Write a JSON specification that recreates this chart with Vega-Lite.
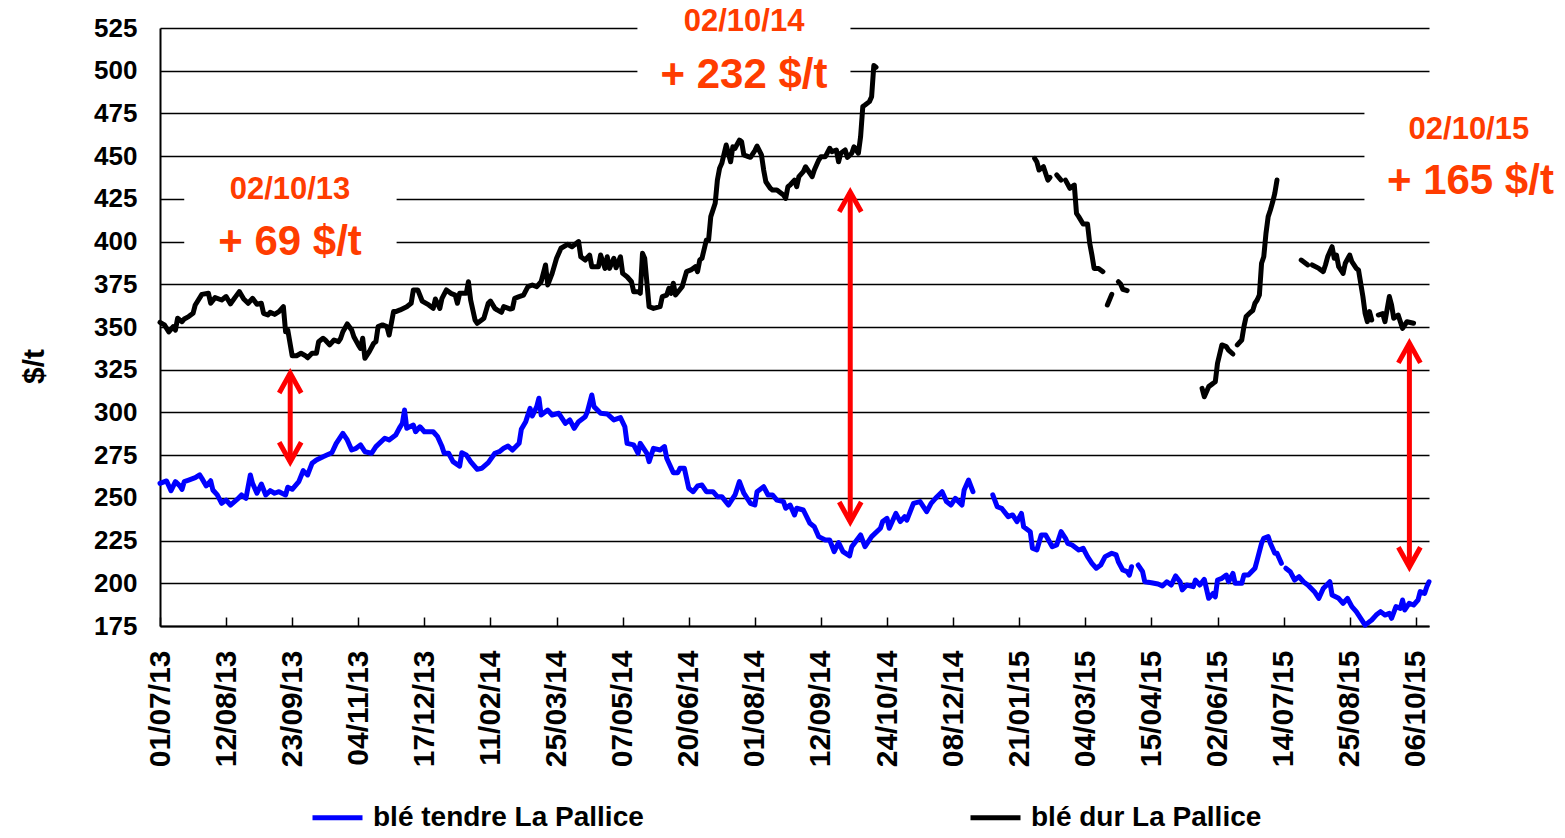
{
  "$schema": "https://vega.github.io/schema/vega-lite/v6.json",
  "width": 1269,
  "height": 598,
  "autosize": {"type": "none"},
  "padding": {"left": 160, "top": 28, "right": 136, "bottom": 212},
  "background": "white",
  "config": {"font": "Liberation Sans", "view": {"stroke": null}},
  "layer": [
    {
      "data": {"values": [
        {"n1": 11, "n2": 107.4, "v1": 390, "v2": 445},
        {"n1": 216.7, "n2": 313.4, "v1": 490, "v2": 535},
        {"n1": 546.7, "n2": 640, "v1": 412, "v2": 487}
      ]},
      "mark": {"type": "rect", "fill": "white"},
      "encoding": {
        "x": {"field": "n1", "type": "quantitative"},
        "x2": {"field": "n2"},
        "y": {"field": "v1", "type": "quantitative"},
        "y2": {"field": "v2"}
      }
    },
    {
      "data": {"values": [
        {"s":"blé tendre La Pallice","g":1,"n":0,"v":258.5},{"s":"blé tendre La Pallice","g":1,"n":3,"v":259.9},{"s":"blé tendre La Pallice","g":1,"n":5,"v":254.2},{"s":"blé tendre La Pallice","g":1,"n":7,"v":259.5},{"s":"blé tendre La Pallice","g":1,"n":9,"v":257},{"s":"blé tendre La Pallice","g":1,"n":10,"v":255},{"s":"blé tendre La Pallice","g":1,"n":11,"v":259.5},{"s":"blé tendre La Pallice","g":1,"n":13,"v":260.4},{"s":"blé tendre La Pallice","g":1,"n":16,"v":261.8},{"s":"blé tendre La Pallice","g":1,"n":18,"v":263.4},{"s":"blé tendre La Pallice","g":1,"n":19,"v":261.4},{"s":"blé tendre La Pallice","g":1,"n":21,"v":257},{"s":"blé tendre La Pallice","g":1,"n":23,"v":260},{"s":"blé tendre La Pallice","g":1,"n":24,"v":254.6},{"s":"blé tendre La Pallice","g":1,"n":26,"v":251.7},{"s":"blé tendre La Pallice","g":1,"n":28,"v":246.8},{"s":"blé tendre La Pallice","g":1,"n":30,"v":248.7},{"s":"blé tendre La Pallice","g":1,"n":32,"v":245.8},{"s":"blé tendre La Pallice","g":1,"n":35,"v":249.1},{"s":"blé tendre La Pallice","g":1,"n":37,"v":251.7},{"s":"blé tendre La Pallice","g":1,"n":39,"v":249.7},{"s":"blé tendre La Pallice","g":1,"n":41,"v":263.4},{"s":"blé tendre La Pallice","g":1,"n":42,"v":258.5},{"s":"blé tendre La Pallice","g":1,"n":44,"v":252.7},{"s":"blé tendre La Pallice","g":1,"n":46,"v":258.1},{"s":"blé tendre La Pallice","g":1,"n":48,"v":251.7},{"s":"blé tendre La Pallice","g":1,"n":50,"v":254.2},{"s":"blé tendre La Pallice","g":1,"n":52,"v":252.7},{"s":"blé tendre La Pallice","g":1,"n":54,"v":253.6},{"s":"blé tendre La Pallice","g":1,"n":57,"v":251.7},{"s":"blé tendre La Pallice","g":1,"n":58,"v":256.2},{"s":"blé tendre La Pallice","g":1,"n":60,"v":255},{"s":"blé tendre La Pallice","g":1,"n":63,"v":259.5},{"s":"blé tendre La Pallice","g":1,"n":65,"v":265.9},{"s":"blé tendre La Pallice","g":1,"n":67,"v":263.4},{"s":"blé tendre La Pallice","g":1,"n":69,"v":270.2},{"s":"blé tendre La Pallice","g":1,"n":71,"v":272.2},{"s":"blé tendre La Pallice","g":1,"n":74,"v":274.1},{"s":"blé tendre La Pallice","g":1,"n":78,"v":276.4},{"s":"blé tendre La Pallice","g":1,"n":80,"v":281.9},{"s":"blé tendre La Pallice","g":1,"n":83,"v":287.8},{"s":"blé tendre La Pallice","g":1,"n":85,"v":283.9},{"s":"blé tendre La Pallice","g":1,"n":87,"v":278},{"s":"blé tendre La Pallice","g":1,"n":89,"v":279},{"s":"blé tendre La Pallice","g":1,"n":91,"v":281},{"s":"blé tendre La Pallice","g":1,"n":93,"v":277},{"s":"blé tendre La Pallice","g":1,"n":96,"v":276.1},{"s":"blé tendre La Pallice","g":1,"n":98,"v":280},{"s":"blé tendre La Pallice","g":1,"n":102,"v":284.9},{"s":"blé tendre La Pallice","g":1,"n":104,"v":283.9},{"s":"blé tendre La Pallice","g":1,"n":107,"v":286.8},{"s":"blé tendre La Pallice","g":1,"n":109,"v":291.6},{"s":"blé tendre La Pallice","g":1,"n":110,"v":293.6},{"s":"blé tendre La Pallice","g":1,"n":111,"v":301.4},{"s":"blé tendre La Pallice","g":1,"n":112,"v":290.7},{"s":"blé tendre La Pallice","g":1,"n":115,"v":292.6},{"s":"blé tendre La Pallice","g":1,"n":116,"v":288.7},{"s":"blé tendre La Pallice","g":1,"n":118,"v":291.6},{"s":"blé tendre La Pallice","g":1,"n":120,"v":288.7},{"s":"blé tendre La Pallice","g":1,"n":124,"v":288.7},{"s":"blé tendre La Pallice","g":1,"n":126,"v":285.8},{"s":"blé tendre La Pallice","g":1,"n":128,"v":280},{"s":"blé tendre La Pallice","g":1,"n":129,"v":276.1},{"s":"blé tendre La Pallice","g":1,"n":131,"v":276.1},{"s":"blé tendre La Pallice","g":1,"n":133,"v":271.2},{"s":"blé tendre La Pallice","g":1,"n":136,"v":268.6},{"s":"blé tendre La Pallice","g":1,"n":137,"v":276.4},{"s":"blé tendre La Pallice","g":1,"n":139,"v":275.1},{"s":"blé tendre La Pallice","g":1,"n":141,"v":271.2},{"s":"blé tendre La Pallice","g":1,"n":144,"v":266.7},{"s":"blé tendre La Pallice","g":1,"n":146,"v":267.3},{"s":"blé tendre La Pallice","g":1,"n":149,"v":270.6},{"s":"blé tendre La Pallice","g":1,"n":152,"v":276.1},{"s":"blé tendre La Pallice","g":1,"n":154,"v":277},{"s":"blé tendre La Pallice","g":1,"n":156,"v":279},{"s":"blé tendre La Pallice","g":1,"n":158,"v":280.3},{"s":"blé tendre La Pallice","g":1,"n":160,"v":278},{"s":"blé tendre La Pallice","g":1,"n":163,"v":281.9},{"s":"blé tendre La Pallice","g":1,"n":164,"v":290.1},{"s":"blé tendre La Pallice","g":1,"n":166,"v":294.6},{"s":"blé tendre La Pallice","g":1,"n":168,"v":302.4},{"s":"blé tendre La Pallice","g":1,"n":169,"v":297.9},{"s":"blé tendre La Pallice","g":1,"n":171,"v":303.4},{"s":"blé tendre La Pallice","g":1,"n":172,"v":308.3},{"s":"blé tendre La Pallice","g":1,"n":173,"v":298.5},{"s":"blé tendre La Pallice","g":1,"n":176,"v":301.4},{"s":"blé tendre La Pallice","g":1,"n":178,"v":298.5},{"s":"blé tendre La Pallice","g":1,"n":181,"v":299.5},{"s":"blé tendre La Pallice","g":1,"n":184,"v":293.6},{"s":"blé tendre La Pallice","g":1,"n":186,"v":295.6},{"s":"blé tendre La Pallice","g":1,"n":188,"v":290.7},{"s":"blé tendre La Pallice","g":1,"n":190,"v":294.6},{"s":"blé tendre La Pallice","g":1,"n":193,"v":297.5},{"s":"blé tendre La Pallice","g":1,"n":194,"v":300.4},{"s":"blé tendre La Pallice","g":1,"n":196,"v":310.2},{"s":"blé tendre La Pallice","g":1,"n":197,"v":303.4},{"s":"blé tendre La Pallice","g":1,"n":200,"v":299.5},{"s":"blé tendre La Pallice","g":1,"n":203,"v":299.1},{"s":"blé tendre La Pallice","g":1,"n":206,"v":295.6},{"s":"blé tendre La Pallice","g":1,"n":209,"v":297},{"s":"blé tendre La Pallice","g":1,"n":211,"v":291.6},{"s":"blé tendre La Pallice","g":1,"n":212,"v":281.9},{"s":"blé tendre La Pallice","g":1,"n":215,"v":281},{"s":"blé tendre La Pallice","g":1,"n":217,"v":276.1},{"s":"blé tendre La Pallice","g":1,"n":218,"v":281.9},{"s":"blé tendre La Pallice","g":1,"n":221,"v":276.1},{"s":"blé tendre La Pallice","g":1,"n":222,"v":271.2},{"s":"blé tendre La Pallice","g":1,"n":224,"v":279},{"s":"blé tendre La Pallice","g":1,"n":227,"v":278},{"s":"blé tendre La Pallice","g":1,"n":229,"v":280},{"s":"blé tendre La Pallice","g":1,"n":230,"v":273.2},{"s":"blé tendre La Pallice","g":1,"n":233,"v":264.7},{"s":"blé tendre La Pallice","g":1,"n":235,"v":264.7},{"s":"blé tendre La Pallice","g":1,"n":236,"v":267.3},{"s":"blé tendre La Pallice","g":1,"n":238,"v":267.3},{"s":"blé tendre La Pallice","g":1,"n":240,"v":255.6},{"s":"blé tendre La Pallice","g":1,"n":242,"v":253.6},{"s":"blé tendre La Pallice","g":1,"n":244,"v":257},{"s":"blé tendre La Pallice","g":1,"n":246,"v":257.5},{"s":"blé tendre La Pallice","g":1,"n":248,"v":253.6},{"s":"blé tendre La Pallice","g":1,"n":251,"v":253.6},{"s":"blé tendre La Pallice","g":1,"n":253,"v":250.7},{"s":"blé tendre La Pallice","g":1,"n":255,"v":250.7},{"s":"blé tendre La Pallice","g":1,"n":258,"v":245.8},{"s":"blé tendre La Pallice","g":1,"n":261,"v":251.7},{"s":"blé tendre La Pallice","g":1,"n":263,"v":259.5},{"s":"blé tendre La Pallice","g":1,"n":265,"v":252.7},{"s":"blé tendre La Pallice","g":1,"n":268,"v":246.8},{"s":"blé tendre La Pallice","g":1,"n":270,"v":245.8},{"s":"blé tendre La Pallice","g":1,"n":271,"v":253.6},{"s":"blé tendre La Pallice","g":1,"n":274,"v":256.5},{"s":"blé tendre La Pallice","g":1,"n":276,"v":251.7},{"s":"blé tendre La Pallice","g":1,"n":278,"v":251.7},{"s":"blé tendre La Pallice","g":1,"n":280,"v":248.7},{"s":"blé tendre La Pallice","g":1,"n":283,"v":247.8},{"s":"blé tendre La Pallice","g":1,"n":284,"v":243.9},{"s":"blé tendre La Pallice","g":1,"n":286,"v":245.8},{"s":"blé tendre La Pallice","g":1,"n":288,"v":240},{"s":"blé tendre La Pallice","g":1,"n":289,"v":243.9},{"s":"blé tendre La Pallice","g":1,"n":292,"v":242.9},{"s":"blé tendre La Pallice","g":1,"n":295,"v":235.1},{"s":"blé tendre La Pallice","g":1,"n":297,"v":233.1},{"s":"blé tendre La Pallice","g":1,"n":299,"v":227.3},{"s":"blé tendre La Pallice","g":1,"n":302,"v":225.3},{"s":"blé tendre La Pallice","g":1,"n":304,"v":225.3},{"s":"blé tendre La Pallice","g":1,"n":306,"v":218.5},{"s":"blé tendre La Pallice","g":1,"n":308,"v":223.8},{"s":"blé tendre La Pallice","g":1,"n":310,"v":218.5},{"s":"blé tendre La Pallice","g":1,"n":313,"v":216},{"s":"blé tendre La Pallice","g":1,"n":314,"v":221.4},{"s":"blé tendre La Pallice","g":1,"n":318,"v":228.3},{"s":"blé tendre La Pallice","g":1,"n":320,"v":221.4},{"s":"blé tendre La Pallice","g":1,"n":323,"v":227.3},{"s":"blé tendre La Pallice","g":1,"n":327,"v":232.2},{"s":"blé tendre La Pallice","g":1,"n":328,"v":236.1},{"s":"blé tendre La Pallice","g":1,"n":330,"v":238},{"s":"blé tendre La Pallice","g":1,"n":331,"v":232.2},{"s":"blé tendre La Pallice","g":1,"n":334,"v":240.9},{"s":"blé tendre La Pallice","g":1,"n":336,"v":236.1},{"s":"blé tendre La Pallice","g":1,"n":338,"v":239},{"s":"blé tendre La Pallice","g":1,"n":339,"v":237},{"s":"blé tendre La Pallice","g":1,"n":342,"v":246.8},{"s":"blé tendre La Pallice","g":1,"n":345,"v":247.8},{"s":"blé tendre La Pallice","g":1,"n":348,"v":241.9},{"s":"blé tendre La Pallice","g":1,"n":350,"v":246.8},{"s":"blé tendre La Pallice","g":1,"n":352,"v":249.7},{"s":"blé tendre La Pallice","g":1,"n":355,"v":253.6},{"s":"blé tendre La Pallice","g":1,"n":357,"v":247.8},{"s":"blé tendre La Pallice","g":1,"n":359,"v":245.8},{"s":"blé tendre La Pallice","g":1,"n":361,"v":249.7},{"s":"blé tendre La Pallice","g":1,"n":364,"v":245.8},{"s":"blé tendre La Pallice","g":1,"n":365,"v":254.6},{"s":"blé tendre La Pallice","g":1,"n":367,"v":260.4},{"s":"blé tendre La Pallice","g":1,"n":369,"v":253.6},
        {"s":"blé tendre La Pallice","g":2,"n":378,"v":251.7},{"s":"blé tendre La Pallice","g":2,"n":380,"v":244.8},{"s":"blé tendre La Pallice","g":2,"n":382,"v":243.9},{"s":"blé tendre La Pallice","g":2,"n":385,"v":239},{"s":"blé tendre La Pallice","g":2,"n":387,"v":240},{"s":"blé tendre La Pallice","g":2,"n":389,"v":236.1},{"s":"blé tendre La Pallice","g":2,"n":391,"v":240.9},{"s":"blé tendre La Pallice","g":2,"n":392,"v":233.1},{"s":"blé tendre La Pallice","g":2,"n":395,"v":230.2},{"s":"blé tendre La Pallice","g":2,"n":396,"v":220.5},{"s":"blé tendre La Pallice","g":2,"n":398,"v":219.5},{"s":"blé tendre La Pallice","g":2,"n":400,"v":228.3},{"s":"blé tendre La Pallice","g":2,"n":402,"v":228.3},{"s":"blé tendre La Pallice","g":2,"n":405,"v":221.4},{"s":"blé tendre La Pallice","g":2,"n":407,"v":222.4},{"s":"blé tendre La Pallice","g":2,"n":409,"v":230.2},{"s":"blé tendre La Pallice","g":2,"n":411,"v":226.3},{"s":"blé tendre La Pallice","g":2,"n":412,"v":223.4},{"s":"blé tendre La Pallice","g":2,"n":414,"v":222.4},{"s":"blé tendre La Pallice","g":2,"n":417,"v":219.5},{"s":"blé tendre La Pallice","g":2,"n":419,"v":220.5},{"s":"blé tendre La Pallice","g":2,"n":421,"v":215.6},{"s":"blé tendre La Pallice","g":2,"n":423,"v":211.7},{"s":"blé tendre La Pallice","g":2,"n":425,"v":208.8},{"s":"blé tendre La Pallice","g":2,"n":427,"v":210.7},{"s":"blé tendre La Pallice","g":2,"n":429,"v":215.6},{"s":"blé tendre La Pallice","g":2,"n":432,"v":217.6},{"s":"blé tendre La Pallice","g":2,"n":434,"v":216.6},{"s":"blé tendre La Pallice","g":2,"n":435,"v":212.6},{"s":"blé tendre La Pallice","g":2,"n":437,"v":207.8},{"s":"blé tendre La Pallice","g":2,"n":439,"v":206.8},{"s":"blé tendre La Pallice","g":2,"n":440,"v":204.8},{"s":"blé tendre La Pallice","g":2,"n":441,"v":209.7},
        {"s":"blé tendre La Pallice","g":3,"n":444,"v":210.7},{"s":"blé tendre La Pallice","g":3,"n":446,"v":206.8},{"s":"blé tendre La Pallice","g":3,"n":447,"v":200.9},{"s":"blé tendre La Pallice","g":3,"n":450,"v":200.3},{"s":"blé tendre La Pallice","g":3,"n":453,"v":199.6},{"s":"blé tendre La Pallice","g":3,"n":455,"v":198.4},{"s":"blé tendre La Pallice","g":3,"n":457,"v":200.9},{"s":"blé tendre La Pallice","g":3,"n":459,"v":199},{"s":"blé tendre La Pallice","g":3,"n":461,"v":204.3},{"s":"blé tendre La Pallice","g":3,"n":463,"v":200.9},{"s":"blé tendre La Pallice","g":3,"n":464,"v":196.1},{"s":"blé tendre La Pallice","g":3,"n":466,"v":199},{"s":"blé tendre La Pallice","g":3,"n":469,"v":198},{"s":"blé tendre La Pallice","g":3,"n":470,"v":201.9},{"s":"blé tendre La Pallice","g":3,"n":472,"v":199},{"s":"blé tendre La Pallice","g":3,"n":474,"v":202.3},{"s":"blé tendre La Pallice","g":3,"n":476,"v":191.2},{"s":"blé tendre La Pallice","g":3,"n":478,"v":194.1},{"s":"blé tendre La Pallice","g":3,"n":479,"v":192.1},{"s":"blé tendre La Pallice","g":3,"n":480,"v":201.9},{"s":"blé tendre La Pallice","g":3,"n":482,"v":202.9},{"s":"blé tendre La Pallice","g":3,"n":484,"v":204.8},{"s":"blé tendre La Pallice","g":3,"n":485,"v":200.9},{"s":"blé tendre La Pallice","g":3,"n":487,"v":205.8},{"s":"blé tendre La Pallice","g":3,"n":488,"v":200},{"s":"blé tendre La Pallice","g":3,"n":491,"v":200},{"s":"blé tendre La Pallice","g":3,"n":492,"v":204.8},{"s":"blé tendre La Pallice","g":3,"n":494,"v":204.8},{"s":"blé tendre La Pallice","g":3,"n":497,"v":208.8},{"s":"blé tendre La Pallice","g":3,"n":498,"v":213.6},{"s":"blé tendre La Pallice","g":3,"n":500,"v":223.4},{"s":"blé tendre La Pallice","g":3,"n":501,"v":226.3},{"s":"blé tendre La Pallice","g":3,"n":503,"v":227.3},{"s":"blé tendre La Pallice","g":3,"n":504,"v":223.4},{"s":"blé tendre La Pallice","g":3,"n":506,"v":217.6},{"s":"blé tendre La Pallice","g":3,"n":507,"v":217.6},{"s":"blé tendre La Pallice","g":3,"n":509,"v":211.7},
        {"s":"blé tendre La Pallice","g":4,"n":511,"v":208.8},{"s":"blé tendre La Pallice","g":4,"n":513,"v":206.8},{"s":"blé tendre La Pallice","g":4,"n":515,"v":201.9},{"s":"blé tendre La Pallice","g":4,"n":517,"v":203.9},{"s":"blé tendre La Pallice","g":4,"n":519,"v":200.9},{"s":"blé tendre La Pallice","g":4,"n":521,"v":199},{"s":"blé tendre La Pallice","g":4,"n":524,"v":195.1},{"s":"blé tendre La Pallice","g":4,"n":526,"v":191.2},{"s":"blé tendre La Pallice","g":4,"n":528,"v":197},{"s":"blé tendre La Pallice","g":4,"n":531,"v":200.9},{"s":"blé tendre La Pallice","g":4,"n":532,"v":193.1},{"s":"blé tendre La Pallice","g":4,"n":535,"v":191.2},{"s":"blé tendre La Pallice","g":4,"n":537,"v":188.3},{"s":"blé tendre La Pallice","g":4,"n":539,"v":191.2},{"s":"blé tendre La Pallice","g":4,"n":541,"v":186.3},{"s":"blé tendre La Pallice","g":4,"n":543,"v":183.4},{"s":"blé tendre La Pallice","g":4,"n":545,"v":179.5},{"s":"blé tendre La Pallice","g":4,"n":547,"v":175.5},{"s":"blé tendre La Pallice","g":4,"n":550,"v":178.5},{"s":"blé tendre La Pallice","g":4,"n":552,"v":181.4},{"s":"blé tendre La Pallice","g":4,"n":554,"v":183.4},{"s":"blé tendre La Pallice","g":4,"n":556,"v":181.4},{"s":"blé tendre La Pallice","g":4,"n":558,"v":182.4},{"s":"blé tendre La Pallice","g":4,"n":559,"v":179.5},{"s":"blé tendre La Pallice","g":4,"n":561,"v":186.3},{"s":"blé tendre La Pallice","g":4,"n":563,"v":185.3},{"s":"blé tendre La Pallice","g":4,"n":564,"v":190.2},{"s":"blé tendre La Pallice","g":4,"n":565,"v":184.4},{"s":"blé tendre La Pallice","g":4,"n":567,"v":188.3},{"s":"blé tendre La Pallice","g":4,"n":569,"v":187.3},{"s":"blé tendre La Pallice","g":4,"n":571,"v":190.2},{"s":"blé tendre La Pallice","g":4,"n":572,"v":195.1},{"s":"blé tendre La Pallice","g":4,"n":574,"v":194.1},{"s":"blé tendre La Pallice","g":4,"n":575,"v":198},{"s":"blé tendre La Pallice","g":4,"n":576,"v":200.9},
        {"s":"blé dur La Pallice","g":1,"n":0,"v":352.7},{"s":"blé dur La Pallice","g":1,"n":2,"v":351.2},{"s":"blé dur La Pallice","g":1,"n":4,"v":347.2},{"s":"blé dur La Pallice","g":1,"n":6,"v":350.2},{"s":"blé dur La Pallice","g":1,"n":7,"v":348.2},{"s":"blé dur La Pallice","g":1,"n":8,"v":355.1},{"s":"blé dur La Pallice","g":1,"n":10,"v":353.1},{"s":"blé dur La Pallice","g":1,"n":11,"v":354.7},{"s":"blé dur La Pallice","g":1,"n":13,"v":356.1},{"s":"blé dur La Pallice","g":1,"n":15,"v":358},{"s":"blé dur La Pallice","g":1,"n":16,"v":362.9},{"s":"blé dur La Pallice","g":1,"n":19,"v":369.1},{"s":"blé dur La Pallice","g":1,"n":22,"v":369.7},{"s":"blé dur La Pallice","g":1,"n":23,"v":363.9},{"s":"blé dur La Pallice","g":1,"n":25,"v":367.2},{"s":"blé dur La Pallice","g":1,"n":28,"v":365.8},{"s":"blé dur La Pallice","g":1,"n":30,"v":367.8},{"s":"blé dur La Pallice","g":1,"n":32,"v":363.5},{"s":"blé dur La Pallice","g":1,"n":34,"v":367.2},{"s":"blé dur La Pallice","g":1,"n":36,"v":370.7},{"s":"blé dur La Pallice","g":1,"n":38,"v":366.4},{"s":"blé dur La Pallice","g":1,"n":40,"v":363.9},{"s":"blé dur La Pallice","g":1,"n":42,"v":366.8},{"s":"blé dur La Pallice","g":1,"n":44,"v":363.3},{"s":"blé dur La Pallice","g":1,"n":46,"v":363.9},{"s":"blé dur La Pallice","g":1,"n":47,"v":358},{"s":"blé dur La Pallice","g":1,"n":49,"v":357},{"s":"blé dur La Pallice","g":1,"n":50,"v":358.6},{"s":"blé dur La Pallice","g":1,"n":52,"v":357.4},{"s":"blé dur La Pallice","g":1,"n":54,"v":359},{"s":"blé dur La Pallice","g":1,"n":56,"v":361.9},{"s":"blé dur La Pallice","g":1,"n":57,"v":347.2},{"s":"blé dur La Pallice","g":1,"n":58,"v":348.2},{"s":"blé dur La Pallice","g":1,"n":60,"v":333.2},{"s":"blé dur La Pallice","g":1,"n":62,"v":333.2},{"s":"blé dur La Pallice","g":1,"n":64,"v":334.6},{"s":"blé dur La Pallice","g":1,"n":66,"v":333.2},{"s":"blé dur La Pallice","g":1,"n":67,"v":332},{"s":"blé dur La Pallice","g":1,"n":69,"v":334.6},{"s":"blé dur La Pallice","g":1,"n":71,"v":334.6},{"s":"blé dur La Pallice","g":1,"n":72,"v":341.4},{"s":"blé dur La Pallice","g":1,"n":74,"v":343.4},{"s":"blé dur La Pallice","g":1,"n":75,"v":342.4},{"s":"blé dur La Pallice","g":1,"n":77,"v":339.5},{"s":"blé dur La Pallice","g":1,"n":79,"v":342.4},{"s":"blé dur La Pallice","g":1,"n":81,"v":341.4},{"s":"blé dur La Pallice","g":1,"n":82,"v":343.4},{"s":"blé dur La Pallice","g":1,"n":83,"v":347.2},{"s":"blé dur La Pallice","g":1,"n":85,"v":351.8},{"s":"blé dur La Pallice","g":1,"n":87,"v":348.2},{"s":"blé dur La Pallice","g":1,"n":88,"v":344.3},{"s":"blé dur La Pallice","g":1,"n":90,"v":339.5},{"s":"blé dur La Pallice","g":1,"n":91,"v":337.5},{"s":"blé dur La Pallice","g":1,"n":92,"v":343.4},{"s":"blé dur La Pallice","g":1,"n":93,"v":331.7},{"s":"blé dur La Pallice","g":1,"n":95,"v":335.6},{"s":"blé dur La Pallice","g":1,"n":97,"v":340.5},{"s":"blé dur La Pallice","g":1,"n":98,"v":341.4},{"s":"blé dur La Pallice","g":1,"n":99,"v":350.2},{"s":"blé dur La Pallice","g":1,"n":101,"v":351.2},{"s":"blé dur La Pallice","g":1,"n":103,"v":350.2},{"s":"blé dur La Pallice","g":1,"n":104,"v":345.3},{"s":"blé dur La Pallice","g":1,"n":106,"v":359},{"s":"blé dur La Pallice","g":1,"n":107,"v":359},{"s":"blé dur La Pallice","g":1,"n":109,"v":360},{"s":"blé dur La Pallice","g":1,"n":112,"v":361.9},{"s":"blé dur La Pallice","g":1,"n":114,"v":363.9},{"s":"blé dur La Pallice","g":1,"n":115,"v":371.7},{"s":"blé dur La Pallice","g":1,"n":117,"v":371.7},{"s":"blé dur La Pallice","g":1,"n":119,"v":365.2},{"s":"blé dur La Pallice","g":1,"n":122,"v":362.9},{"s":"blé dur La Pallice","g":1,"n":124,"v":360.9},{"s":"blé dur La Pallice","g":1,"n":125,"v":366.4},{"s":"blé dur La Pallice","g":1,"n":127,"v":360.9},{"s":"blé dur La Pallice","g":1,"n":128,"v":366.8},{"s":"blé dur La Pallice","g":1,"n":130,"v":371.7},{"s":"blé dur La Pallice","g":1,"n":132,"v":369.7},{"s":"blé dur La Pallice","g":1,"n":134,"v":368.7},{"s":"blé dur La Pallice","g":1,"n":135,"v":363.9},{"s":"blé dur La Pallice","g":1,"n":136,"v":369.7},{"s":"blé dur La Pallice","g":1,"n":139,"v":369.7},{"s":"blé dur La Pallice","g":1,"n":140,"v":376.5},{"s":"blé dur La Pallice","g":1,"n":141,"v":365.8},{"s":"blé dur La Pallice","g":1,"n":143,"v":354.1},{"s":"blé dur La Pallice","g":1,"n":144,"v":352.2},{"s":"blé dur La Pallice","g":1,"n":146,"v":354.1},{"s":"blé dur La Pallice","g":1,"n":147,"v":355.1},{"s":"blé dur La Pallice","g":1,"n":149,"v":363.9},{"s":"blé dur La Pallice","g":1,"n":150,"v":365.2},{"s":"blé dur La Pallice","g":1,"n":152,"v":360.9},{"s":"blé dur La Pallice","g":1,"n":153,"v":360},{"s":"blé dur La Pallice","g":1,"n":155,"v":358.6},{"s":"blé dur La Pallice","g":1,"n":156,"v":361.9},{"s":"blé dur La Pallice","g":1,"n":159,"v":360.5},{"s":"blé dur La Pallice","g":1,"n":160,"v":360.9},{"s":"blé dur La Pallice","g":1,"n":161,"v":366.8},{"s":"blé dur La Pallice","g":1,"n":163,"v":367.8},{"s":"blé dur La Pallice","g":1,"n":165,"v":368.7},{"s":"blé dur La Pallice","g":1,"n":167,"v":373.6},{"s":"blé dur La Pallice","g":1,"n":169,"v":374.6},{"s":"blé dur La Pallice","g":1,"n":171,"v":373.6},{"s":"blé dur La Pallice","g":1,"n":173,"v":376.5},{"s":"blé dur La Pallice","g":1,"n":175,"v":386.3},{"s":"blé dur La Pallice","g":1,"n":176,"v":374.6},{"s":"blé dur La Pallice","g":1,"n":178,"v":381.4},{"s":"blé dur La Pallice","g":1,"n":180,"v":390.2},{"s":"blé dur La Pallice","g":1,"n":182,"v":396.1},{"s":"blé dur La Pallice","g":1,"n":185,"v":398.4},{"s":"blé dur La Pallice","g":1,"n":187,"v":397},{"s":"blé dur La Pallice","g":1,"n":190,"v":400},{"s":"blé dur La Pallice","g":1,"n":191,"v":391.1},{"s":"blé dur La Pallice","g":1,"n":193,"v":389.2},{"s":"blé dur La Pallice","g":1,"n":195,"v":392.1},{"s":"blé dur La Pallice","g":1,"n":196,"v":385.3},{"s":"blé dur La Pallice","g":1,"n":199,"v":385.3},{"s":"blé dur La Pallice","g":1,"n":200,"v":392.1},{"s":"blé dur La Pallice","g":1,"n":202,"v":384.3},{"s":"blé dur La Pallice","g":1,"n":203,"v":391.1},{"s":"blé dur La Pallice","g":1,"n":204,"v":384.3},{"s":"blé dur La Pallice","g":1,"n":206,"v":390.2},{"s":"blé dur La Pallice","g":1,"n":207,"v":384.7},{"s":"blé dur La Pallice","g":1,"n":209,"v":391.1},{"s":"blé dur La Pallice","g":1,"n":210,"v":381.4},{"s":"blé dur La Pallice","g":1,"n":212,"v":379.4},{"s":"blé dur La Pallice","g":1,"n":214,"v":376.5},{"s":"blé dur La Pallice","g":1,"n":215,"v":370.7},{"s":"blé dur La Pallice","g":1,"n":217,"v":370.7},{"s":"blé dur La Pallice","g":1,"n":218,"v":369.7},{"s":"blé dur La Pallice","g":1,"n":219,"v":393.1},{"s":"blé dur La Pallice","g":1,"n":220,"v":390.2},{"s":"blé dur La Pallice","g":1,"n":222,"v":361.9},{"s":"blé dur La Pallice","g":1,"n":224,"v":360.9},{"s":"blé dur La Pallice","g":1,"n":227,"v":361.9},{"s":"blé dur La Pallice","g":1,"n":228,"v":367.8},{"s":"blé dur La Pallice","g":1,"n":230,"v":368.7},{"s":"blé dur La Pallice","g":1,"n":231,"v":372.6},{"s":"blé dur La Pallice","g":1,"n":232,"v":369.7},{"s":"blé dur La Pallice","g":1,"n":233,"v":375.6},{"s":"blé dur La Pallice","g":1,"n":234,"v":368.7},{"s":"blé dur La Pallice","g":1,"n":237,"v":373.6},{"s":"blé dur La Pallice","g":1,"n":239,"v":382.4},{"s":"blé dur La Pallice","g":1,"n":241,"v":383.4},{"s":"blé dur La Pallice","g":1,"n":243,"v":385.3},{"s":"blé dur La Pallice","g":1,"n":244,"v":382.4},{"s":"blé dur La Pallice","g":1,"n":245,"v":389.2},{"s":"blé dur La Pallice","g":1,"n":246,"v":390.2},{"s":"blé dur La Pallice","g":1,"n":248,"v":400.9},{"s":"blé dur La Pallice","g":1,"n":249,"v":400.9},{"s":"blé dur La Pallice","g":1,"n":250,"v":414.6},{"s":"blé dur La Pallice","g":1,"n":252,"v":422.4},{"s":"blé dur La Pallice","g":1,"n":253,"v":436},{"s":"blé dur La Pallice","g":1,"n":254,"v":442.9},{"s":"blé dur La Pallice","g":1,"n":255,"v":445.8},{"s":"blé dur La Pallice","g":1,"n":257,"v":456.5},{"s":"blé dur La Pallice","g":1,"n":258,"v":451.7},{"s":"blé dur La Pallice","g":1,"n":259,"v":446.7},{"s":"blé dur La Pallice","g":1,"n":260,"v":455.5},{"s":"blé dur La Pallice","g":1,"n":261,"v":454.6},{"s":"blé dur La Pallice","g":1,"n":263,"v":459.4},{"s":"blé dur La Pallice","g":1,"n":264,"v":458.4},{"s":"blé dur La Pallice","g":1,"n":265,"v":450.7},{"s":"blé dur La Pallice","g":1,"n":267,"v":449.7},{"s":"blé dur La Pallice","g":1,"n":268,"v":449.3},{"s":"blé dur La Pallice","g":1,"n":270,"v":453.2},{"s":"blé dur La Pallice","g":1,"n":271,"v":455.9},{"s":"blé dur La Pallice","g":1,"n":273,"v":450.7},{"s":"blé dur La Pallice","g":1,"n":274,"v":441.9},{"s":"blé dur La Pallice","g":1,"n":275,"v":435},{"s":"blé dur La Pallice","g":1,"n":277,"v":431.2},{"s":"blé dur La Pallice","g":1,"n":278,"v":430.2},{"s":"blé dur La Pallice","g":1,"n":280,"v":430.2},{"s":"blé dur La Pallice","g":1,"n":283,"v":427.3},{"s":"blé dur La Pallice","g":1,"n":284,"v":425.3},{"s":"blé dur La Pallice","g":1,"n":285,"v":432.1},{"s":"blé dur La Pallice","g":1,"n":286,"v":433.1},{"s":"blé dur La Pallice","g":1,"n":288,"v":436},{"s":"blé dur La Pallice","g":1,"n":289,"v":432.1},{"s":"blé dur La Pallice","g":1,"n":290,"v":438},{"s":"blé dur La Pallice","g":1,"n":292,"v":440.9},{"s":"blé dur La Pallice","g":1,"n":293,"v":443.8},{"s":"blé dur La Pallice","g":1,"n":294,"v":441.9},{"s":"blé dur La Pallice","g":1,"n":296,"v":438},{"s":"blé dur La Pallice","g":1,"n":297,"v":441.9},{"s":"blé dur La Pallice","g":1,"n":299,"v":447.7},{"s":"blé dur La Pallice","g":1,"n":300,"v":449.7},{"s":"blé dur La Pallice","g":1,"n":302,"v":449.7},{"s":"blé dur La Pallice","g":1,"n":304,"v":454.6},{"s":"blé dur La Pallice","g":1,"n":305,"v":452.6},{"s":"blé dur La Pallice","g":1,"n":307,"v":453.6},{"s":"blé dur La Pallice","g":1,"n":308,"v":446.7},{"s":"blé dur La Pallice","g":1,"n":309,"v":451.7},{"s":"blé dur La Pallice","g":1,"n":311,"v":453.6},{"s":"blé dur La Pallice","g":1,"n":312,"v":449.3},{"s":"blé dur La Pallice","g":1,"n":314,"v":451.7},{"s":"blé dur La Pallice","g":1,"n":315,"v":455.5},{"s":"blé dur La Pallice","g":1,"n":317,"v":451.7},{"s":"blé dur La Pallice","g":1,"n":318,"v":461.4},{"s":"blé dur La Pallice","g":1,"n":319,"v":479},{"s":"blé dur La Pallice","g":1,"n":320,"v":479.9},{"s":"blé dur La Pallice","g":1,"n":322,"v":481.9},{"s":"blé dur La Pallice","g":1,"n":323,"v":484.8},{"s":"blé dur La Pallice","g":1,"n":324,"v":503},{"s":"blé dur La Pallice","g":1,"n":325,"v":502},
        {"s":"blé dur La Pallice","g":2,"n":397,"v":448.7},{"s":"blé dur La Pallice","g":2,"n":398,"v":446.7},{"s":"blé dur La Pallice","g":2,"n":399,"v":441.9},{"s":"blé dur La Pallice","g":2,"n":401,"v":443.8},{"s":"blé dur La Pallice","g":2,"n":403,"v":436},{"s":"blé dur La Pallice","g":2,"n":404,"v":437.6},
        {"s":"blé dur La Pallice","g":3,"n":407,"v":439},{"s":"blé dur La Pallice","g":3,"n":409,"v":436},
        {"s":"blé dur La Pallice","g":4,"n":411,"v":436},{"s":"blé dur La Pallice","g":4,"n":413,"v":431.2},{"s":"blé dur La Pallice","g":4,"n":415,"v":433.1},{"s":"blé dur La Pallice","g":4,"n":416,"v":416.5},{"s":"blé dur La Pallice","g":4,"n":417,"v":414.6},{"s":"blé dur La Pallice","g":4,"n":419,"v":410.3},{"s":"blé dur La Pallice","g":4,"n":421,"v":410.3},{"s":"blé dur La Pallice","g":4,"n":422,"v":399},{"s":"blé dur La Pallice","g":4,"n":423,"v":392.1},{"s":"blé dur La Pallice","g":4,"n":424,"v":384.3},{"s":"blé dur La Pallice","g":4,"n":426,"v":384.3},{"s":"blé dur La Pallice","g":4,"n":428,"v":382.4},
        {"s":"blé dur La Pallice","g":5,"n":430,"v":362.9},{"s":"blé dur La Pallice","g":5,"n":432,"v":369.1},
        {"s":"blé dur La Pallice","g":6,"n":435,"v":376.5},{"s":"blé dur La Pallice","g":6,"n":436,"v":375.2},{"s":"blé dur La Pallice","g":6,"n":437,"v":372.1},{"s":"blé dur La Pallice","g":6,"n":439,"v":371.3},
        {"s":"blé dur La Pallice","g":7,"n":473,"v":314.1},{"s":"blé dur La Pallice","g":7,"n":474,"v":309.2},{"s":"blé dur La Pallice","g":7,"n":476,"v":315.1},{"s":"blé dur La Pallice","g":7,"n":478,"v":317},{"s":"blé dur La Pallice","g":7,"n":479,"v":318},{"s":"blé dur La Pallice","g":7,"n":480,"v":328.8},{"s":"blé dur La Pallice","g":7,"n":482,"v":339.5},{"s":"blé dur La Pallice","g":7,"n":484,"v":338.5},{"s":"blé dur La Pallice","g":7,"n":485,"v":336.5},{"s":"blé dur La Pallice","g":7,"n":487,"v":334.2},
        {"s":"blé dur La Pallice","g":8,"n":489,"v":339.5},{"s":"blé dur La Pallice","g":8,"n":491,"v":342.4},{"s":"blé dur La Pallice","g":8,"n":492,"v":350.2},{"s":"blé dur La Pallice","g":8,"n":493,"v":356.1},{"s":"blé dur La Pallice","g":8,"n":495,"v":358.6},{"s":"blé dur La Pallice","g":8,"n":496,"v":359.6},{"s":"blé dur La Pallice","g":8,"n":497,"v":363.9},{"s":"blé dur La Pallice","g":8,"n":498,"v":365.8},{"s":"blé dur La Pallice","g":8,"n":499,"v":368.7},{"s":"blé dur La Pallice","g":8,"n":500,"v":387.3},{"s":"blé dur La Pallice","g":8,"n":501,"v":391.1},{"s":"blé dur La Pallice","g":8,"n":502,"v":404.8},{"s":"blé dur La Pallice","g":8,"n":503,"v":414.6},{"s":"blé dur La Pallice","g":8,"n":504,"v":418.5},{"s":"blé dur La Pallice","g":8,"n":505,"v":423},{"s":"blé dur La Pallice","g":8,"n":506,"v":428.2},{"s":"blé dur La Pallice","g":8,"n":507,"v":436},
        {"s":"blé dur La Pallice","g":9,"n":518,"v":389.2},{"s":"blé dur La Pallice","g":9,"n":521,"v":386.3},
        {"s":"blé dur La Pallice","g":10,"n":523,"v":386.3},{"s":"blé dur La Pallice","g":10,"n":526,"v":384.3},{"s":"blé dur La Pallice","g":10,"n":528,"v":382.4},{"s":"blé dur La Pallice","g":10,"n":529,"v":386.3},{"s":"blé dur La Pallice","g":10,"n":530,"v":391.1},{"s":"blé dur La Pallice","g":10,"n":532,"v":397},{"s":"blé dur La Pallice","g":10,"n":533,"v":390.2},{"s":"blé dur La Pallice","g":10,"n":534,"v":392.1},{"s":"blé dur La Pallice","g":10,"n":535,"v":385.3},{"s":"blé dur La Pallice","g":10,"n":537,"v":381.4},{"s":"blé dur La Pallice","g":10,"n":538,"v":387.3},{"s":"blé dur La Pallice","g":10,"n":540,"v":392.1},{"s":"blé dur La Pallice","g":10,"n":541,"v":388.2},{"s":"blé dur La Pallice","g":10,"n":543,"v":384.3},{"s":"blé dur La Pallice","g":10,"n":544,"v":383.4},{"s":"blé dur La Pallice","g":10,"n":546,"v":367.8},{"s":"blé dur La Pallice","g":10,"n":547,"v":358},{"s":"blé dur La Pallice","g":10,"n":548,"v":353.1},{"s":"blé dur La Pallice","g":10,"n":549,"v":359},{"s":"blé dur La Pallice","g":10,"n":550,"v":354.1},
        {"s":"blé dur La Pallice","g":11,"n":553,"v":357},{"s":"blé dur La Pallice","g":11,"n":555,"v":357.9},{"s":"blé dur La Pallice","g":11,"n":556,"v":353.1},{"s":"blé dur La Pallice","g":11,"n":558,"v":367.8},{"s":"blé dur La Pallice","g":11,"n":559,"v":362.9},{"s":"blé dur La Pallice","g":11,"n":560,"v":355.1},{"s":"blé dur La Pallice","g":11,"n":562,"v":357},{"s":"blé dur La Pallice","g":11,"n":564,"v":349.2},{"s":"blé dur La Pallice","g":11,"n":566,"v":353.1},{"s":"blé dur La Pallice","g":11,"n":569,"v":352.2}
      ]},
      "mark": {"type": "line", "strokeWidth": 5, "strokeJoin": "round", "strokeCap": "round"},
      "encoding": {
        "x": {
          "field": "n", "type": "quantitative",
          "scale": {"domain": [0, 576], "nice": false, "zero": false},
          "axis": {
            "title": null,
            "values": [0,30,60,90,120,150,180,210,240,270,300,330,360,390,420,450,480,510,540,570],
            "labelExpr": "['01/07/13','12/08/13','23/09/13','04/11/13','17/12/13','11/02/14','25/03/14','07/05/14','20/06/14','01/08/14','12/09/14','24/10/14','08/12/14','21/01/15','04/03/15','15/04/15','02/06/15','14/07/15','25/08/15','06/10/15'][round(datum.value/30)]",
            "labelAngle": 270,
            "labelFontSize": 30,
            "labelFontWeight": "bold",
            "labelColor": "#000000",
            "labelOverlap": false,
            "labelFlush": false,
            "labelPadding": 33,
            "tickSize": -9,
            "tickWidth": 1.5,
            "tickColor": "#000000",
            "domainColor": "#000000",
            "domainWidth": 2,
            "grid": false
          }
        },
        "y": {
          "field": "v", "type": "quantitative",
          "scale": {"domain": [175, 525], "nice": false, "zero": false},
          "axis": {
            "title": "$/t",
            "titleFontSize": 30,
            "titleFontWeight": "bold",
            "titleColor": "#000000",
            "titleX": -126,
            "titleY": 338,
            "titleAngle": 270,
            "titleAlign": "center",
            "titleBaseline": "middle",
            "values": [175,200,225,250,275,300,325,350,375,400,425,450,475,500,525],
            "labelFontSize": 26,
            "labelFontWeight": "bold",
            "labelColor": "#000000",
            "labelPadding": 23,
            "labelOverlap": false,
            "ticks": false,
            "domainColor": "#000000",
            "domainWidth": 2,
            "grid": true,
            "gridColor": "#000000",
            "gridWidth": 1.6,
            "gridOpacity": 1
          }
        },
        "color": {
          "field": "s", "type": "nominal",
          "scale": {"domain": ["blé tendre La Pallice", "blé dur La Pallice"], "range": ["#0000ff", "#000000"]},
          "legend": {
            "title": null,
            "orient": "none",
            "legendX": 150,
            "legendY": 762,
            "direction": "horizontal",
            "symbolType": "stroke",
            "symbolSize": 2500,
            "symbolStrokeWidth": 5,
            "labelFontSize": 28,
            "labelFontWeight": "bold",
            "labelColor": "#000000",
            "labelOffset": 8,
            "labelLimit": 600,
            "columnPadding": 316
          }
        },
        "detail": {"field": "g", "type": "nominal"}
      }
    },
    {
      "data": {"values": [
        {"n": 59.1, "lo": 271, "hi": 323},
        {"n": 313.3, "lo": 236, "hi": 429},
        {"n": 567.1, "lo": 209.5, "hi": 340.6}
      ]},
      "layer": [
        {
          "mark": {"type": "rule", "color": "#ff0000", "strokeWidth": 5},
          "encoding": {
            "x": {"field": "n", "type": "quantitative"},
            "y": {"field": "hi", "type": "quantitative"},
            "y2": {"field": "lo"}
          }
        },
        {
          "mark": {"type": "point", "shape": "M-1,1.8L0,0L1,1.8", "size": 484, "filled": false, "stroke": "#ff0000", "strokeWidth": 5, "opacity": 1, "strokeJoin": "miter", "strokeCap": "butt"},
          "encoding": {
            "x": {"field": "n", "type": "quantitative"},
            "y": {"field": "hi", "type": "quantitative"}
          }
        },
        {
          "mark": {"type": "point", "shape": "M-1,-1.8L0,0L1,-1.8", "size": 484, "filled": false, "stroke": "#ff0000", "strokeWidth": 5, "opacity": 1, "strokeJoin": "miter", "strokeCap": "butt"},
          "encoding": {
            "x": {"field": "n", "type": "quantitative"},
            "y": {"field": "lo", "type": "quantitative"}
          }
        }
      ]
    },
    {
      "data": {"values": [
        {"n": 59, "v": 430.2, "t": "02/10/13"},
        {"n": 265.1, "v": 528.5, "t": "02/10/14"},
        {"n": 594.1, "v": 465.3, "t": "02/10/15"}
      ]},
      "mark": {"type": "text", "fontSize": 31, "fontWeight": "bold", "color": "#ff3c00", "align": "center", "baseline": "middle"},
      "encoding": {
        "x": {"field": "n", "type": "quantitative"},
        "y": {"field": "v", "type": "quantitative"},
        "text": {"field": "t"}
      }
    },
    {
      "data": {"values": [
        {"n": 59, "v": 399.7, "t": "+ 69 $/t"},
        {"n": 265.1, "v": 497.5, "t": "+ 232 $/t"},
        {"n": 594.8, "v": 435.4, "t": "+ 165 $/t"}
      ]},
      "mark": {"type": "text", "fontSize": 42, "fontWeight": "bold", "color": "#ff3c00", "align": "center", "baseline": "middle"},
      "encoding": {
        "x": {"field": "n", "type": "quantitative"},
        "y": {"field": "v", "type": "quantitative"},
        "text": {"field": "t"}
      }
    }
  ]
}
